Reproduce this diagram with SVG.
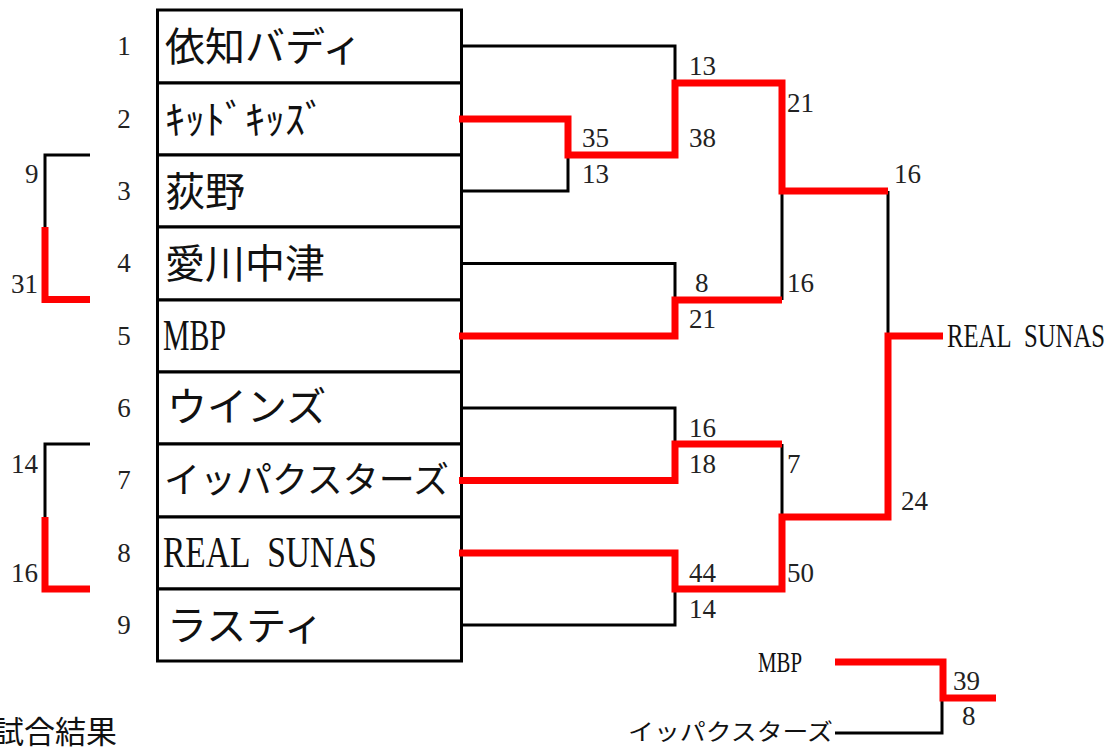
<svg xmlns="http://www.w3.org/2000/svg" width="1110" height="747" viewBox="0 0 1110 747">
<style>
.blk{fill:none;stroke:#000;stroke-width:3;stroke-linejoin:miter}
.red{fill:none;stroke:#f00;stroke-width:7;stroke-linejoin:miter}
.box{fill:#fff;stroke:#000;stroke-width:3}
.num{font-family:"Liberation Serif",serif;font-size:27px;fill:#222}
.seed{font-family:"Liberation Serif",serif;font-size:27px;fill:#222;text-anchor:middle}
.name{font-family:"Noto Sans CJK JP",sans-serif;font-size:40px;fill:#111}
.lat{font-family:"Liberation Serif",serif;fill:#111}
</style>
<rect width="1110" height="747" fill="#fff"/>
<g id="team1"><rect class="box" x="157.5" y="10" width="304" height="73"/><text class="seed" x="124" y="55">1</text><text class="name" x="165" y="61">依知バディ</text></g>
<g id="team2"><rect class="box" x="157.5" y="83" width="304" height="72"/><text class="seed" x="124" y="128">2</text><text class="name" x="165" y="134">ｷｯﾄﾞｷｯｽﾞ</text></g>
<g id="team3"><rect class="box" x="157.5" y="155" width="304" height="72"/><text class="seed" x="124" y="200">3</text><text class="name" x="165" y="206">荻野</text></g>
<g id="team4"><rect class="box" x="157.5" y="227" width="304" height="73"/><text class="seed" x="124" y="272">4</text><text class="name" x="165" y="278">愛川中津</text></g>
<g id="team5"><rect class="box" x="157.5" y="300" width="304" height="72"/><text class="seed" x="124" y="345">5</text><text class="lat" x="163" y="350" style="font-size:45px" textLength="63" lengthAdjust="spacingAndGlyphs">MBP</text></g>
<g id="team6"><rect class="box" x="157.5" y="372" width="304" height="72"/><text class="seed" x="124" y="417">6</text><text class="name" x="167" y="421">ウインズ</text></g>
<g id="team7"><rect class="box" x="157.5" y="444" width="304" height="73"/><text class="seed" x="124" y="489">7</text><text class="name" x="164" y="493" style="font-size:36px" textLength="285" lengthAdjust="spacingAndGlyphs">イッパクスターズ</text></g>
<g id="team8"><rect class="box" x="157.5" y="517" width="304" height="72"/><text class="seed" x="124" y="562">8</text><text class="lat" x="163" y="567" style="font-size:45px" textLength="214" lengthAdjust="spacingAndGlyphs">REAL&#160;&#160;SUNAS</text></g>
<g id="team9"><rect class="box" x="157.5" y="589" width="304" height="72"/><text class="seed" x="124" y="634">9</text><text class="name" x="167" y="640">ラスティ</text></g>
<g id="connectors">
<path class="blk" d="M461,46 H675 V83"/>
<path class="blk" d="M461,191 H568 V155"/>
<path class="blk" d="M461,263.5 H675 V300"/>
<path class="blk" d="M782,191 V300"/>
<path class="blk" d="M888,191 V336"/>
<path class="blk" d="M461,408 H675 V444"/>
<path class="blk" d="M782,444 V517"/>
<path class="blk" d="M461,625 H675 V589"/>
<path class="blk" d="M90,155 H45 V227"/>
<path class="blk" d="M90,444 H45 V517"/>
<path class="blk" d="M942,698 V733 H835"/>
<path class="red" d="M459,119 H568 V155 H675 V83 H782 V191 H888"/>
<path class="red" d="M459,336 H675 V300 H782"/>
<path class="red" d="M459,480.5 H675 V444 H782"/>
<path class="red" d="M459,553 H675 V589 H782 V517 H888 V336 H943"/>
<path class="red" d="M45,227 V299.5 H90"/>
<path class="red" d="M45,517 V589 H90"/>
<path class="red" d="M835,662 H943 V698 H996"/>
</g>
<g id="scores">
<text class="num" x="689" y="75">13</text>
<text class="num" x="689" y="147">38</text>
<text class="num" x="582" y="147">35</text>
<text class="num" x="582" y="183">13</text>
<text class="num" x="787" y="112">21</text>
<text class="num" x="894" y="183">16</text>
<text class="num" x="695" y="292">8</text>
<text class="num" x="689" y="328">21</text>
<text class="num" x="787" y="292">16</text>
<text class="num" x="689" y="437">16</text>
<text class="num" x="689" y="473">18</text>
<text class="num" x="787" y="473">7</text>
<text class="num" x="901" y="510">24</text>
<text class="num" x="689" y="582">44</text>
<text class="num" x="787" y="582">50</text>
<text class="num" x="689" y="618">14</text>
<text class="num" x="25" y="183">9</text>
<text class="num" x="11" y="293">31</text>
<text class="num" x="11" y="473">14</text>
<text class="num" x="11" y="582">16</text>
<text class="num" x="953" y="690">39</text>
<text class="num" x="962" y="725">8</text>
</g>
<g id="champion"><text class="lat" x="947" y="347" style="font-size:33px" textLength="158" lengthAdjust="spacingAndGlyphs">REAL&#160;&#160;SUNAS</text></g>
<g id="third-place">
<text class="lat" x="758" y="672" style="font-size:29px" textLength="44" lengthAdjust="spacingAndGlyphs">MBP</text>
<text class="name" x="628" y="740" style="font-size:23px" textLength="205" lengthAdjust="spacingAndGlyphs">イッパクスターズ</text>
</g>
<g id="title"><text class="name" x="117" y="743" style="font-size:31px;text-anchor:end">試合結果</text></g>
</svg>
